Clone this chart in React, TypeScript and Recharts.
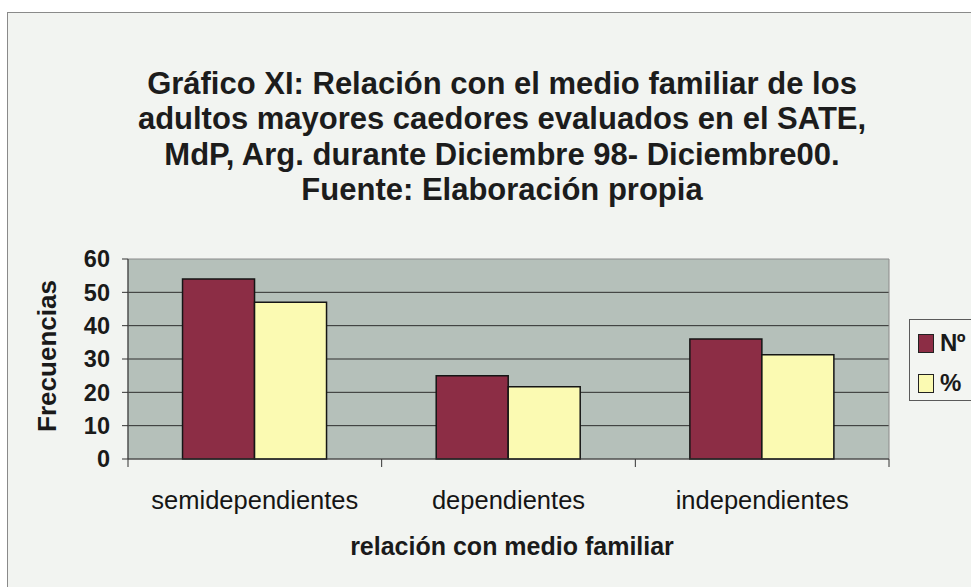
import React from 'react';
import { BarChart, Bar, XAxis, YAxis, CartesianGrid, Legend, ReferenceArea } from 'recharts';

const categories = ['semidependientes', 'dependientes', 'independientes'];
const nValues = [54, 25, 36];
const pctValues = [47, 21.7, 31.3];
const yTicks = [0, 10, 20, 30, 40, 50, 60];
const seriesNames = ['Nº', '%'];
const seriesColors = ['#8c2d45', '#fbfab2'];
const titleLines = [
  'Gráfico XI: Relación con el medio familiar de los',
  'adultos mayores caedores evaluados en el SATE,',
  'MdP, Arg. durante Diciembre 98- Diciembre00.',
  'Fuente: Elaboración propia',
];
const xAxisTitle = 'relación con medio familiar';
const yAxisTitle = 'Frecuencias';

const data = categories.map((c, i) => ({ name: c, n: nValues[i], pct: pctValues[i] }));

const FONT = '"Liberation Sans", Arial, Helvetica, sans-serif';

const XTick = (props: any) => {
  const { x, y, payload, index, visibleTicksCount } = props;
  const off = payload && typeof payload.offset === 'number' ? payload.offset : 0;
  const isLast = index === (visibleTicksCount ?? 3) - 1;
  return (
    <g>
      {off > 0 && <line x1={x - off} y1={y} x2={x - off} y2={y + 8} stroke="#333" strokeWidth={1} />}
      {off > 0 && isLast && <line x1={x + off} y1={y} x2={x + off} y2={y + 8} stroke="#333" strokeWidth={1} />}
      <text x={x} y={y + 50} textAnchor="middle" fontSize={25.5} fill="#151515" fontFamily={FONT}>
        {payload.value}
      </text>
    </g>
  );
};

const LegendBox = () => (
  <div
    style={{
      width: 90,
      height: 82,
      border: '1.5px solid #5a5a5a',
      background: '#f3f5f2',
      boxSizing: 'border-box',
      position: 'relative',
      fontFamily: FONT,
    }}
  >
    {seriesNames.map((s, i) => (
      <div key={s} style={{ position: 'absolute', left: 8, top: 13 + i * 40, height: 20, display: 'flex', alignItems: 'center' }}>
        <div style={{ width: 16, height: 19, background: seriesColors[i], border: '1.5px solid #222', boxSizing: 'border-box' }} />
        <span style={{ marginLeft: 6, fontSize: 24, fontWeight: 700, color: '#1a1a1a', lineHeight: '20px', letterSpacing: -0.5 }}>{s}</span>
      </div>
    ))}
  </div>
);

export default function App() {
  return (
    <div style={{ position: 'absolute', left: 0, top: 0, width: 971, height: 587, overflow: 'hidden', background: '#ffffff', fontFamily: FONT }}>
      <div
        style={{
          position: 'absolute',
          left: 7,
          top: 12,
          width: 1100,
          height: 700,
          border: '1.5px solid #8a8a8a',
          background: '#f2f4f1',
        }}
      />
      <div style={{ position: 'absolute', left: 0, top: 0 }}>
        <BarChart
          width={971}
          height={587}
          data={data}
          margin={{ top: 259, right: 82, left: 0, bottom: 88 }}
          barCategoryGap="21.5%"
          barGap={0}
        >
          <CartesianGrid fill="#b5c0ba" vertical={false} stroke="#2e2e2e" strokeWidth={1} horizontalValues={[10, 20, 30, 40, 50]} />
          <ReferenceArea y1={0} y2={60} fill="none" stroke="#8a8a8a" strokeWidth={1} ifOverflow="visible" />
          <XAxis
            dataKey="name"
            height={40}
            tickSize={0}
            tickMargin={0}
            tickLine={false}
            axisLine={{ stroke: '#333', strokeWidth: 1 }}
            tick={<XTick />}
            interval={0}
          />
          <YAxis
            width={128}
            domain={[0, 60]}
            ticks={yTicks}
            tickSize={6}
            tickMargin={12}
            axisLine={{ stroke: '#333', strokeWidth: 1 }}
            tickLine={{ stroke: '#333', strokeWidth: 1 }}
            tick={{ fontSize: 23.5, fontWeight: 700, fill: '#1a1a1a', fontFamily: FONT }}
            interval={0}
          />
          <Legend
            layout="horizontal"
            align="center"
            verticalAlign="middle"
            wrapperStyle={{ left: 909, top: 319, width: 90, height: 82 }}
            content={() => <LegendBox />}
          />
          <Bar dataKey="n" name={seriesNames[0]} fill={seriesColors[0]} stroke="#151515" strokeWidth={1.5} isAnimationActive={false} />
          <Bar dataKey="pct" name={seriesNames[1]} fill={seriesColors[1]} stroke="#151515" strokeWidth={1.5} isAnimationActive={false} />
        </BarChart>
      </div>
      <svg width={971} height={587} style={{ position: 'absolute', left: 0, top: 0, pointerEvents: 'none' }}>
        {titleLines.map((t, i) => (
          <text key={i} x={502} y={94 + i * 35.3} textAnchor="middle" fontSize={31} fontWeight={700} fill="#1c1c1c" fontFamily={FONT}>
            {t}
          </text>
        ))}
        <text x={512} y={555} textAnchor="middle" fontSize={25} fontWeight={700} fill="#1a1a1a" fontFamily={FONT}>
          {xAxisTitle}
        </text>
        <text
          x={47}
          y={356}
          textAnchor="middle"
          dominantBaseline="central"
          fontSize={26}
          fontWeight={700}
          fill="#1a1a1a"
          fontFamily={FONT}
          transform="rotate(-90 47 356)"
        >
          {yAxisTitle}
        </text>
      </svg>
    </div>
  );
}
